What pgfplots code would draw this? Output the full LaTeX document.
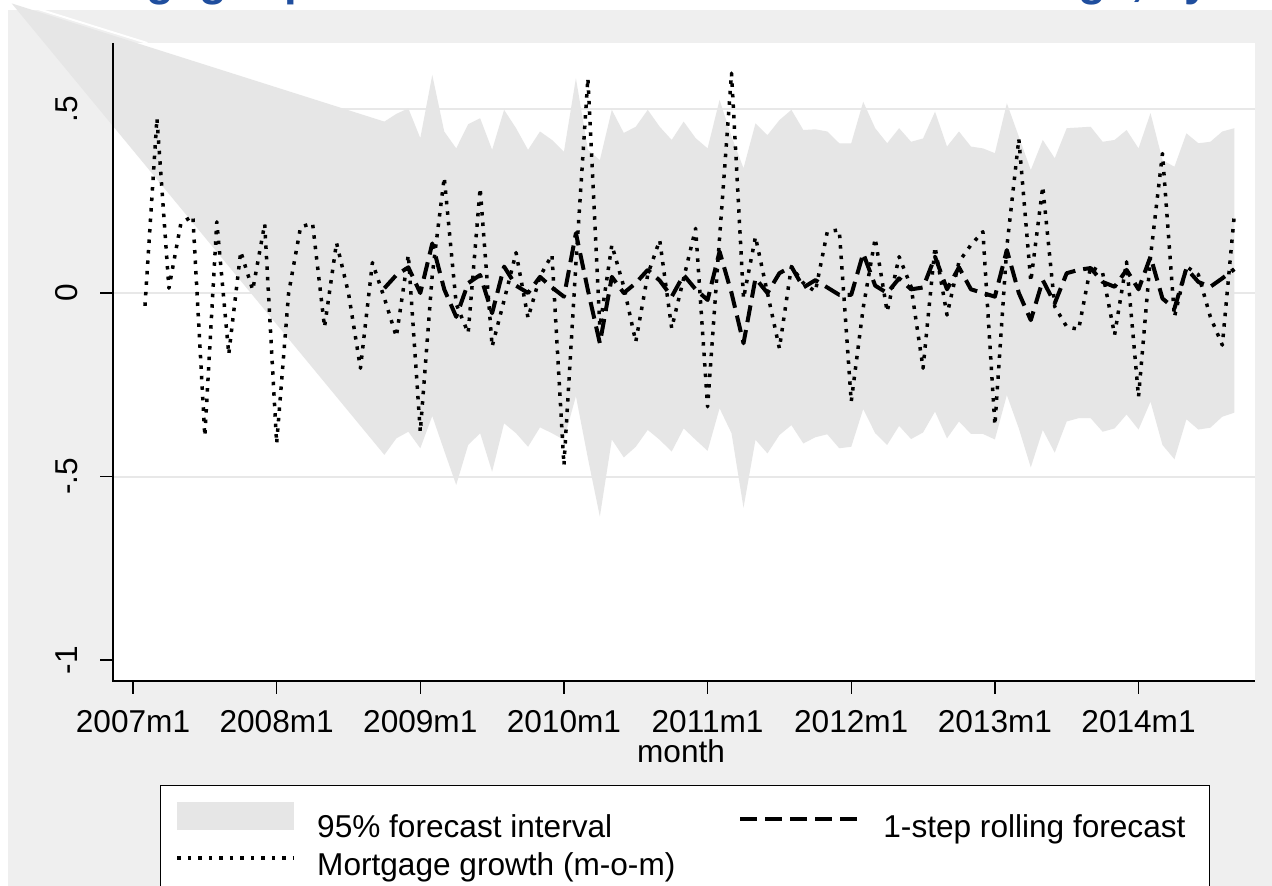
\documentclass[border=0pt]{standalone}
\usepackage{fontspec}
\setmainfont{Liberation Sans}
\usepackage{pgfplots}
\usepackage{pgfplotstable}
\pgfplotsset{compat=1.18}

\definecolor{graphbg}{HTML}{EFEFEF}
\definecolor{bandfill}{HTML}{E6E6E6}
\definecolor{gridc}{HTML}{E8E8E8}
\definecolor{titleblue}{HTML}{1F4E9E}

% t = months since 2007m1
\pgfplotstableread{
t growth fc
1 -0.035 nan
2 0.476 nan
3 0.013 nan
4 0.19 nan
5 0.21 nan
6 -0.39 nan
7 0.194 nan
8 -0.167 nan
9 0.113 nan
10 0.008 nan
11 0.188 nan
12 -0.41 nan
13 0.00 nan
14 0.18 nan
15 0.19 nan
16 -0.093 nan
17 0.137 nan
18 0.00 nan
19 -0.205 nan
20 0.083 nan
21 -0.014 0.013
22 -0.119 0.049
23 0.104 0.07
24 -0.378 0.0
25 0.05 0.135
26 0.315 0.01
27 -0.03 -0.065
28 -0.109 0.027
29 0.286 0.049
30 -0.146 -0.055
31 -0.02 0.072
32 0.11 0.02
33 -0.068 0.0
34 0.045 0.044
35 0.104 0.015
36 -0.469 -0.01
37 0.08 0.163
38 0.585 0.008
39 -0.092 -0.137
40 0.131 0.044
41 0.017 0.0
42 -0.133 0.027
43 0.05 0.063
44 0.144 0.034
45 -0.096 -0.01
46 0.04 0.049
47 0.176 0.01
48 -0.31 -0.019
49 0.15 0.113
50 0.599 0.0
51 -0.015 -0.137
52 0.153 0.04
53 0.0 0.0
54 -0.151 0.054
55 0.072 0.072
56 0.027 0.015
57 0.004 0.035
58 0.167 0.015
59 0.172 -0.005
60 -0.296 -0.005
61 -0.04 0.108
62 0.149 0.02
63 -0.051 0.0
64 0.099 0.04
65 0.017 0.01
66 -0.205 0.015
67 0.126 0.099
68 -0.06 0.01
69 0.085 0.07
70 0.131 0.01
71 0.167 0.0
72 -0.36 -0.01
73 0.126 0.117
74 0.42 0.0
75 0.031 -0.074
76 0.29 0.035
77 -0.037 -0.028
78 -0.092 0.054
79 -0.099 0.063
80 0.072 0.068
81 0.055 0.03
82 -0.114 0.017
83 0.085 0.063
84 -0.283 0.01
85 0.099 0.099
86 0.38 -0.015
87 -0.065 -0.042
88 0.072 0.067
89 0.05 0.03
90 -0.065 0.017
91 -0.142 0.04
92 0.212 0.065
}\data

% 95% forecast interval as one outline: start point, upper bound forward, lower bound back
\pgfplotstableread{
t y
-10.13 0.789
21 0.467
22 0.488
23 0.503
24 0.422
25 0.594
26 0.44
27 0.394
28 0.46
29 0.476
30 0.39
31 0.499
32 0.449
33 0.39
34 0.44
35 0.417
36 0.385
37 0.585
38 0.39
39 0.362
40 0.499
41 0.436
42 0.453
43 0.499
44 0.453
45 0.417
46 0.467
47 0.422
48 0.394
49 0.526
50 0.426
51 0.34
52 0.462
53 0.43
54 0.471
55 0.499
56 0.444
57 0.446
58 0.44
59 0.408
60 0.408
61 0.521
62 0.449
63 0.408
64 0.449
65 0.412
66 0.421
67 0.494
68 0.399
69 0.44
70 0.399
71 0.394
72 0.381
73 0.517
74 0.426
75 0.335
76 0.417
77 0.367
78 0.449
79 0.451
80 0.453
81 0.412
82 0.417
83 0.444
84 0.394
85 0.49
86 0.362
87 0.344
88 0.435
89 0.408
90 0.412
91 0.44
92 0.449
92 -0.326
91 -0.337
90 -0.367
89 -0.372
88 -0.344
87 -0.453
86 -0.414
85 -0.296
84 -0.372
83 -0.331
82 -0.369
81 -0.378
80 -0.341
79 -0.341
78 -0.35
77 -0.435
76 -0.373
75 -0.475
74 -0.369
73 -0.278
72 -0.399
71 -0.384
70 -0.384
69 -0.35
68 -0.396
67 -0.323
66 -0.38
65 -0.398
64 -0.362
63 -0.414
62 -0.382
61 -0.316
60 -0.419
59 -0.423
58 -0.385
57 -0.393
56 -0.41
55 -0.36
54 -0.387
53 -0.437
52 -0.40
51 -0.585
50 -0.382
49 -0.314
48 -0.43
47 -0.40
46 -0.369
45 -0.432
44 -0.40
43 -0.373
42 -0.419
41 -0.448
40 -0.399
39 -0.609
38 -0.45
37 -0.281
36 -0.40
35 -0.382
34 -0.366
33 -0.419
32 -0.382
31 -0.355
30 -0.487
29 -0.382
28 -0.414
27 -0.523
26 -0.43
25 -0.335
24 -0.423
23 -0.378
22 -0.396
21 -0.441
}\band

\begin{document}
\begin{tikzpicture}[x=1pt,y=1pt]
\fill[white] (0,0) rectangle (1272,886);
% title sits above the cropped top edge, only its descenders show
\node[anchor=base west, inner sep=0pt, text=titleblue,
      font=\bfseries\fontsize{45.4}{52}\selectfont] at (48,890.5)
      {Mortgage: predicted vs. actual and forecast range, by month};
\fill[graphbg] (8,0) rectangle (1272,876);
\begin{axis}[
    at={(113pt,205pt)}, anchor=south west,
    width=1142pt, height=638pt, scale only axis,
    xmin=-1.671, xmax=93.73, ymin=-1.0572, ymax=0.6812,
    clip=false,
    axis background/.style={fill=white},
    axis x line*=bottom, axis y line*=left,
    axis line style={draw=none},
    tick align=outside, major tick length=13pt,
    tick style={black, line width=1.3pt},
    minor tick num=0,
    xtick={0,12,...,84},
    xticklabels={2007m1,2008m1,2009m1,2010m1,2011m1,2012m1,2013m1,2014m1},
    ytick={-1,-0.5,0,0.5},
    yticklabels={-1,-.5,0,.5},
    extra y ticks={-0.5,0,0.5},
    extra y tick labels={},
    extra y tick style={grid=major, major tick length=0pt},
    grid style={gridc, line width=2pt},
    ticklabel style={font=\fontsize{31.6}{38}\selectfont, inner sep=0pt},
    xticklabel style={anchor=north, text height=22.6pt},
    xticklabel shift=15.5pt,
    yticklabel style={rotate=90, anchor=south, text depth=0pt},
    yticklabel shift=22pt,
    xlabel={month},
    xlabel style={at={(axis description cs:0.4974,-0.1285)}, anchor=base,
        inner sep=0pt, font=\fontsize{31.6}{38}\selectfont},
    legend columns=2,
    legend cell align=left,
    legend style={
        at={(axis description cs:0.0412,-0.163)}, anchor=north west,
        draw=black, line width=1.3pt, fill=white,
        inner xsep=15pt, inner ysep=16pt,
        font=\fontsize{31.6}{38}\selectfont,
        column sep=0pt, row sep=8.5pt,
        nodes={inner sep=0pt, text height=22.6pt, text depth=6.5pt},
        /tikz/every odd column/.append style={column sep=21pt},
        /tikz/every even column/.append style={column sep=63pt},
    },
]

\addplot[fill=bandfill, draw=none,
    legend image code/.code={\fill[bandfill] (0pt,0pt) rectangle (117pt,28pt);}]
    table[x=t, y=y] {\band};
\addlegendentry{95\% forecast interval}

% thin white edge just above the band where it leaves the plot region
\addplot[white, line width=2pt, forget plot] coordinates {(-7.94,0.774) (1.2,0.681)};

\addplot[black, line width=4pt, line join=round, dash pattern=on 17pt off 8pt,
    legend image code/.code={\draw (0pt,11pt) -- (120pt,11pt);}]
    table[x=t, y=fc] {\data};
\addlegendentry{1-step rolling forecast\rule{9pt}{0pt}}

\addplot[black, line width=3.5pt, line join=round, dash pattern=on 3.5pt off 7pt,
    legend image code/.code={\draw (0pt,9pt) -- (117pt,9pt);}]
    table[x=t, y=growth] {\data};
\addlegendentry{Mortgage growth (m-o-m)}

\draw[black, line width=1.3pt] (rel axis cs:0,1) -- (rel axis cs:0,0) -- (rel axis cs:1,0);
\end{axis}
\pgfresetboundingbox
\path[use as bounding box] (0,0) rectangle (1272,886);
\end{tikzpicture}
\end{document}
